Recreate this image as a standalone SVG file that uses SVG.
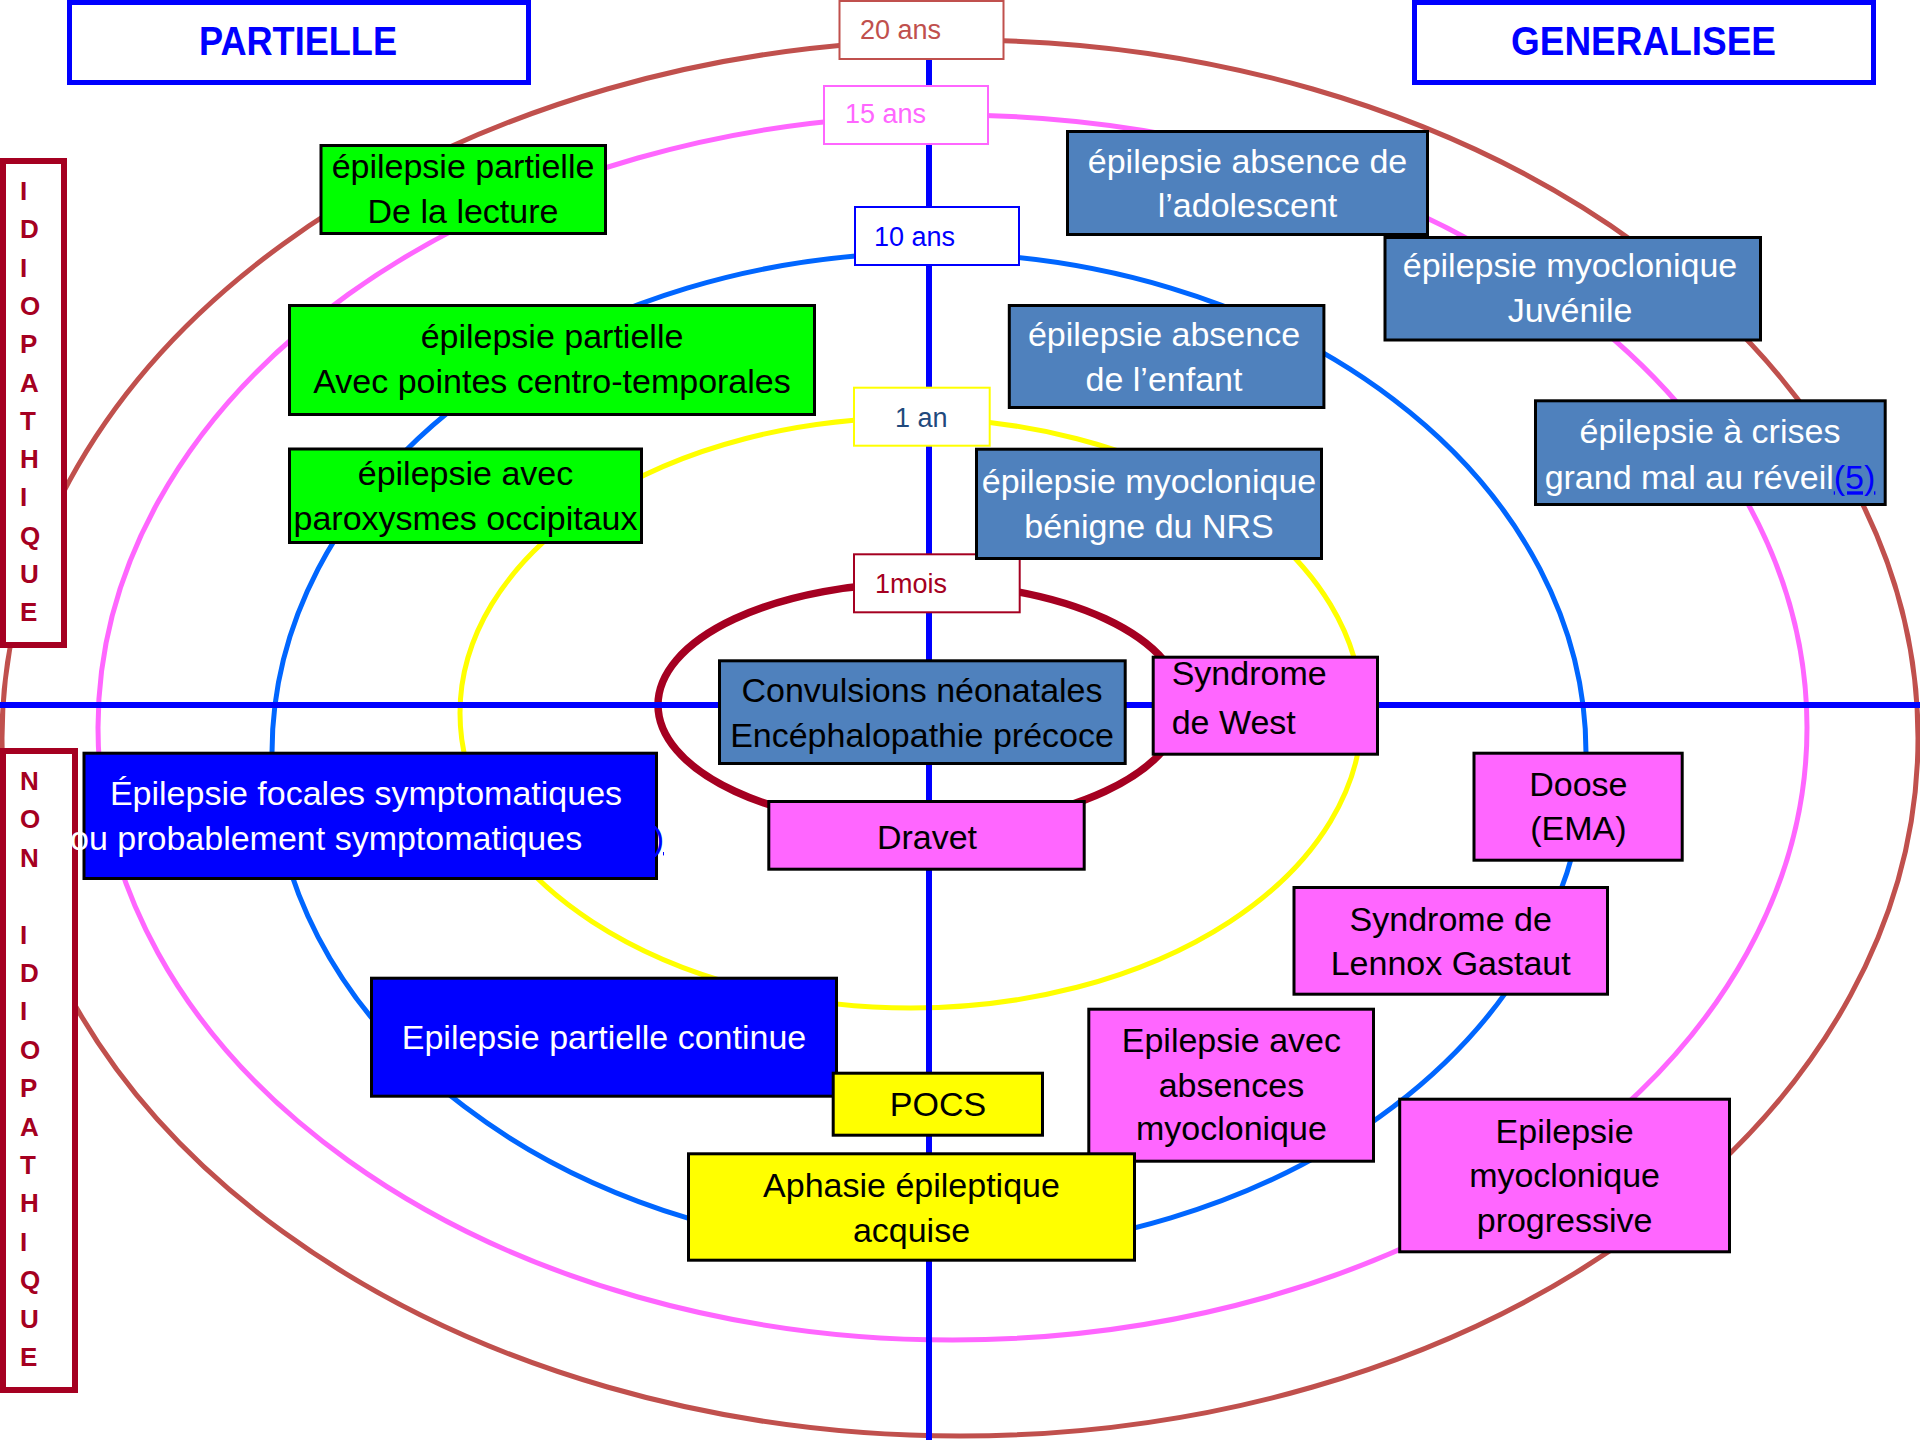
<svg xmlns="http://www.w3.org/2000/svg" width="1920" height="1440" viewBox="0 0 1920 1440">
<style>
.t{font-family:"Liberation Sans",Arial,sans-serif;font-size:34px;text-anchor:middle}
.w{fill:#fff}.k{fill:#000}
.age{font-family:"Liberation Sans",Arial,sans-serif;font-size:27px}
.let{font-family:"Liberation Sans",Arial,sans-serif;font-size:26px;font-weight:bold;fill:#A50021}
.hd{font-family:"Liberation Sans",Arial,sans-serif;font-size:40px;font-weight:bold;fill:#0000FF;text-anchor:middle}
.ring{fill:none;stroke-width:5}
.b{stroke:#000;stroke-width:3}
.green{fill:#00FF00}.steel{fill:#4F81BD}.blue{fill:#0000FF}.pink{fill:#FF66FF}.yel{fill:#FFFF00}
.ab{fill:#fff;stroke-width:2}
</style>
<rect width="1920" height="1440" fill="#fff"/>
<g id="rings">
<ellipse class="ring" cx="960" cy="738" rx="958" ry="698" stroke="#C0504D"/>
<ellipse class="ring" cx="952.5" cy="727.5" rx="854.5" ry="612.5" stroke="#FF66FF"/>
<ellipse class="ring" cx="929" cy="753" rx="657" ry="500" stroke="#0066FF"/>
<ellipse class="ring" cx="911" cy="713" rx="451" ry="295" stroke="#FFFF00"/>
<ellipse class="ring" cx="920" cy="705" rx="262" ry="122" stroke="#A50021" style="stroke-width:7.5"/>
</g>
<g id="axes" stroke="#0000FF" stroke-width="6">
<line x1="0" y1="705" x2="1920" y2="705"/>
<line x1="929" y1="0" x2="929" y2="1440"/>
</g>
<g id="partielle">
<rect x="69.5" y="2.5" width="459" height="80" fill="#fff" stroke="#0000FF" stroke-width="5"/>
<text class="hd" x="298" y="55" textLength="198" lengthAdjust="spacingAndGlyphs">PARTIELLE</text>
</g>
<g id="generalisee">
<rect x="1414.5" y="2.5" width="459" height="80" fill="#fff" stroke="#0000FF" stroke-width="5"/>
<text class="hd" x="1643.5" y="55" textLength="265" lengthAdjust="spacingAndGlyphs">GENERALISEE</text>
</g>
<g id="idiopathique">
<rect x="3" y="161" width="61" height="484" fill="#fff" stroke="#A50021" stroke-width="6"/>
<text class="let"><tspan x="20" y="200">I</tspan><tspan x="20" y="238.3">D</tspan><tspan x="20" y="276.6">I</tspan><tspan x="20" y="314.9">O</tspan><tspan x="20" y="353.2">P</tspan><tspan x="20" y="391.5">A</tspan><tspan x="20" y="429.8">T</tspan><tspan x="20" y="468.1">H</tspan><tspan x="20" y="506.4">I</tspan><tspan x="20" y="544.7">Q</tspan><tspan x="20" y="583">U</tspan><tspan x="20" y="621.3">E</tspan></text>
</g>
<g id="non-idiopathique">
<rect x="3" y="751" width="72" height="639" fill="#fff" stroke="#A50021" stroke-width="6"/>
<text class="let"><tspan x="20" y="790">N</tspan><tspan x="20" y="828.4">O</tspan><tspan x="20" y="866.8">N</tspan><tspan x="20" y="943.6">I</tspan><tspan x="20" y="982">D</tspan><tspan x="20" y="1020.4">I</tspan><tspan x="20" y="1058.8">O</tspan><tspan x="20" y="1097.2">P</tspan><tspan x="20" y="1135.6">A</tspan><tspan x="20" y="1174">T</tspan><tspan x="20" y="1212.4">H</tspan><tspan x="20" y="1250.8">I</tspan><tspan x="20" y="1289.2">Q</tspan><tspan x="20" y="1327.6">U</tspan><tspan x="20" y="1366">E</tspan></text>
</g>
<g id="age-20">
<rect class="ab" x="839.5" y="1" width="164" height="58" stroke="#C0504D"/>
<text class="age" x="860" y="39" fill="#C0504D">20 ans</text>
</g>
<g id="age-15">
<rect class="ab" x="824" y="86" width="164" height="58" stroke="#FF66FF"/>
<text class="age" x="845" y="123" fill="#FF66FF">15 ans</text>
</g>
<g id="age-10">
<rect class="ab" x="855" y="207" width="164" height="58" stroke="#0000FF"/>
<text class="age" x="874" y="246" fill="#0000FF">10 ans</text>
</g>
<g id="age-1an">
<rect class="ab" x="854" y="387.7" width="135.7" height="58" stroke="#FFFF00"/>
<text class="age" x="895" y="426.7" fill="#1F497D">1 an</text>
</g>
<g id="age-1mois">
<rect class="ab" x="854" y="554.3" width="165.7" height="58" stroke="#A50021"/>
<text class="age" x="875" y="592.7" fill="#A50021">1mois</text>
</g>
<g id="n-lecture">
<rect class="green b" x="321" y="145.5" width="284.5" height="88"/>
<text class="t k" x="463" y="178">épilepsie partielle</text>
<text class="t k" x="463" y="223">De la lecture</text>
</g>
<g id="n-centro">
<rect class="green b" x="289.5" y="305.5" width="525" height="109"/>
<text class="t k" x="552" y="348">épilepsie partielle</text>
<text class="t k" x="552" y="393">Avec pointes centro-temporales</text>
</g>
<g id="n-occipitaux">
<rect class="green b" x="289.5" y="449" width="352" height="93.5"/>
<text class="t k" x="465.5" y="485">épilepsie avec</text>
<text class="t k" x="465.5" y="530">paroxysmes occipitaux</text>
</g>
<g id="n-adolescent">
<rect class="steel b" x="1067.5" y="131.5" width="360" height="103"/>
<text class="t w" x="1247.5" y="173">épilepsie absence de</text>
<text class="t w" x="1247.5" y="217">l’adolescent</text>
</g>
<g id="n-juvenile">
<rect class="steel b" x="1385" y="237.5" width="375.5" height="102.5"/>
<text class="t w" x="1570" y="276.7">épilepsie myoclonique</text>
<text class="t w" x="1570" y="321.7">Juvénile</text>
</g>
<g id="n-enfant">
<rect class="steel b" x="1009.3" y="305.5" width="314.6" height="102"/>
<text class="t w" x="1164" y="346">épilepsie absence</text>
<text class="t w" x="1164" y="390.7">de l’enfant</text>
</g>
<g id="n-grandmal">
<rect class="steel b" x="1535.5" y="400.8" width="349.7" height="103.7"/>
<text class="t w" x="1710" y="442.7">épilepsie à crises</text>
<text class="t w" x="1710" y="489.3">grand mal au réveil<tspan fill="#0000FF" text-decoration="underline">(5)</tspan></text>
</g>
<g id="n-nrs">
<rect class="steel b" x="976.5" y="449.2" width="345" height="109.3"/>
<text class="t w" x="1149" y="493.3">épilepsie myoclonique</text>
<text class="t w" x="1149" y="538.3">bénigne du NRS</text>
</g>
<g id="n-neonatales">
<rect class="steel b" x="719.5" y="660.8" width="405.7" height="102.7"/>
<text class="t k" x="922" y="701.7">Convulsions néonatales</text>
<text class="t k" x="922" y="746.7">Encéphalopathie précoce</text>
</g>
<g id="n-west">
<rect class="pink b" x="1153.2" y="657.2" width="224.3" height="97"/>
<text class="t k" x="1171.7" y="685" style="text-anchor:start">Syndrome</text>
<text class="t k" x="1171.7" y="734.3" style="text-anchor:start">de West</text>
</g>
<g id="n-dravet">
<rect class="pink b" x="768.8" y="801.5" width="315.4" height="67.7"/>
<text class="t k" x="927" y="849.3">Dravet</text>
</g>
<g id="n-focales">
<rect class="blue b" x="84" y="753.2" width="572.5" height="125.3"/>
<text class="t w" x="366" y="805">Épilepsie focales symptomatiques</text>
<text class="t w" x="70" y="850" style="text-anchor:start">ou probablement symptomatiques</text>
<text class="t" x="664" y="850" fill="#0000FF" text-decoration="underline" style="text-anchor:end">(2)</text>
</g>
<g id="n-doose">
<rect class="pink b" x="1474" y="753.2" width="208.2" height="107"/>
<text class="t k" x="1578.4" y="796">Doose</text>
<text class="t k" x="1578.4" y="840">(EMA)</text>
</g>
<g id="n-lennox">
<rect class="pink b" x="1294" y="887.5" width="313.5" height="106.7"/>
<text class="t k" x="1450.7" y="930.7">Syndrome de</text>
<text class="t k" x="1450.7" y="975">Lennox Gastaut</text>
</g>
<g id="n-continue">
<rect class="blue b" x="371.5" y="978.2" width="465" height="118"/>
<text class="t w" x="604" y="1049.3">Epilepsie partielle continue</text>
</g>
<g id="n-pocs">
<rect class="yel b" x="833.2" y="1073.2" width="209.3" height="62"/>
<text class="t k" x="938" y="1116">POCS</text>
</g>
<g id="n-absences">
<rect class="pink b" x="1088.8" y="1009.2" width="284.7" height="152"/>
<text class="t k" x="1231.4" y="1051.7">Epilepsie avec</text>
<text class="t k" x="1231.4" y="1096.7">absences</text>
<text class="t k" x="1231.4" y="1140">myoclonique</text>
</g>
<g id="n-aphasie">
<rect class="yel b" x="688.5" y="1153.8" width="446" height="106.4"/>
<text class="t k" x="911.5" y="1196.7">Aphasie épileptique</text>
<text class="t k" x="911.5" y="1241.7">acquise</text>
</g>
<g id="n-progressive">
<rect class="pink b" x="1399.7" y="1099.2" width="329.8" height="152.6"/>
<text class="t k" x="1564.6" y="1142.7">Epilepsie</text>
<text class="t k" x="1564.6" y="1186.7">myoclonique</text>
<text class="t k" x="1564.6" y="1231.7">progressive</text>
</g>
</svg>
